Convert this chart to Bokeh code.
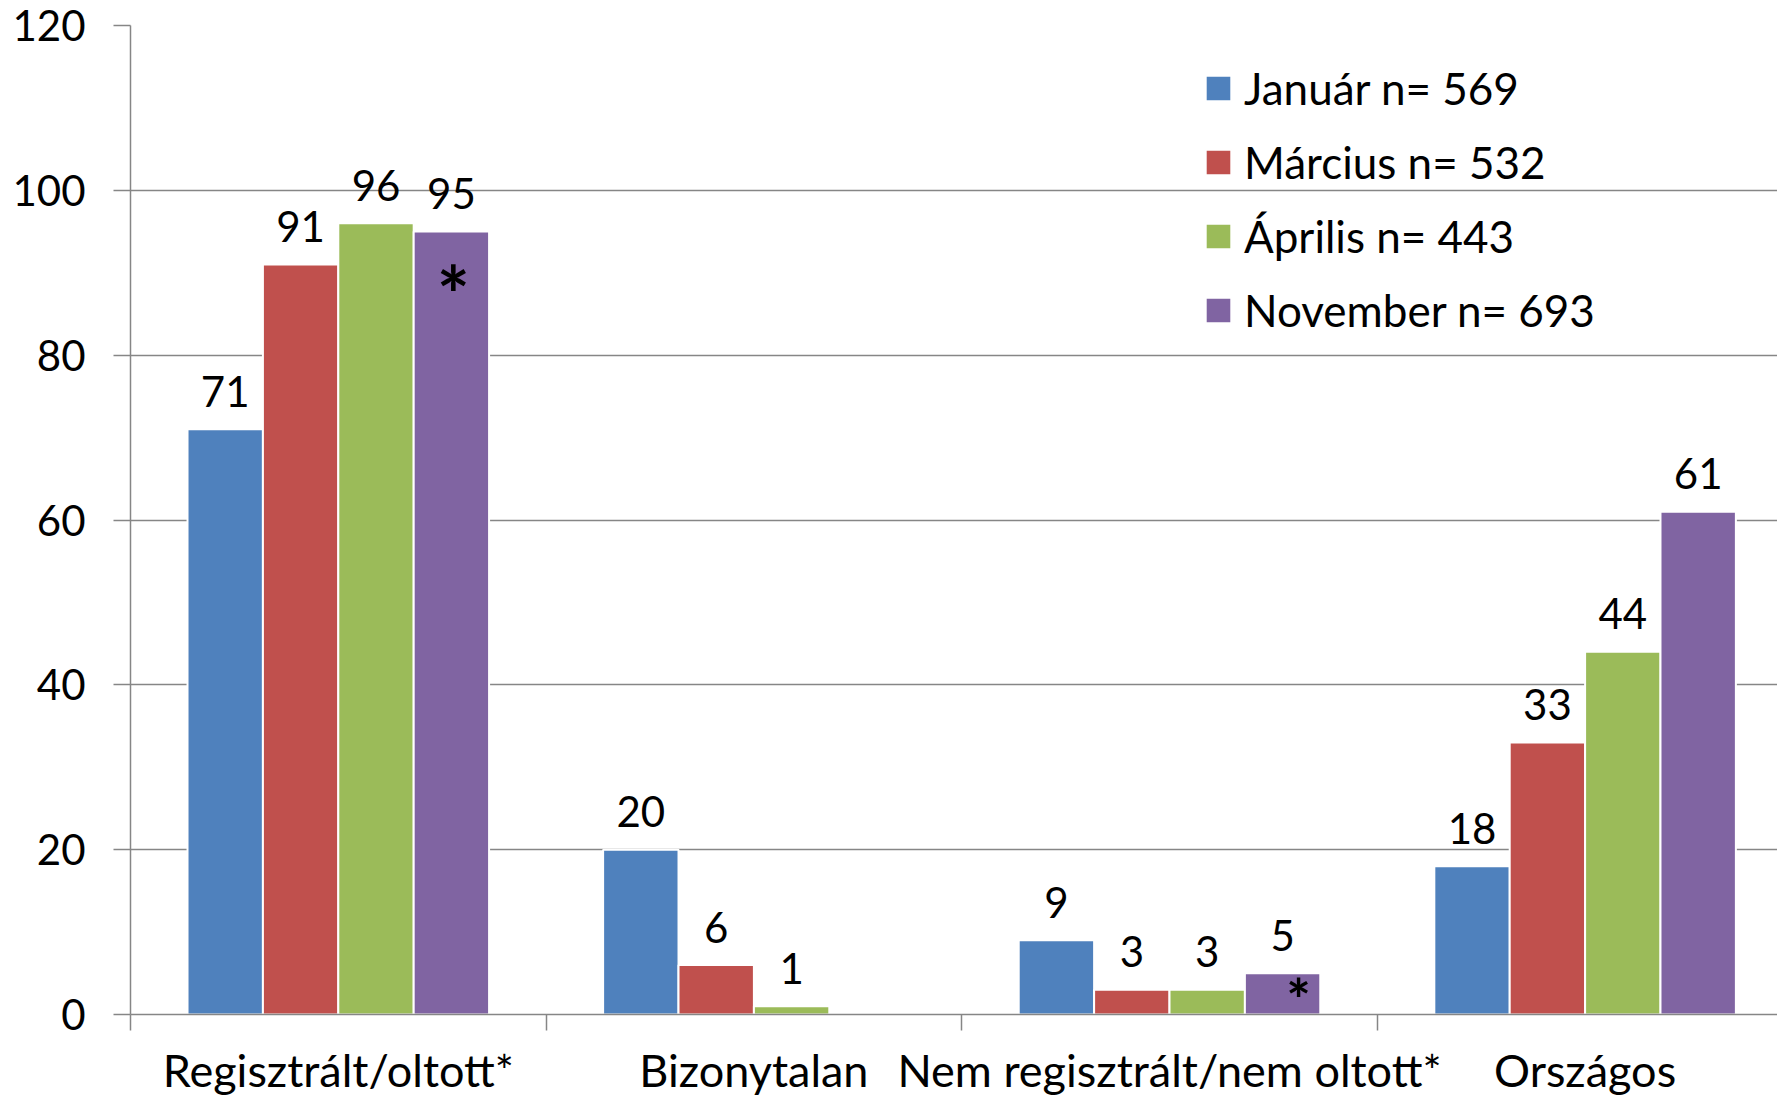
from bokeh.plotting import figure
from bokeh.models import ColumnDataSource, FixedTicker, Legend, LegendItem, Range1d
from bokeh.core.properties import value
from bokeh.embed import file_html
from bokeh.resources import INLINE

categories = ["Regisztrált/oltott*", "Bizonytalan", "Nem regisztrált/nem oltott*", "Országos"]
series_names = ["Január n= 569", "Március n= 532", "Április n= 443", "November n= 693"]
januar = [71, 20, 9, 18]
marcius = [91, 6, 3, 33]
aprilis = [96, 1, 3, 44]
november = [95, None, 5, 61]
november_marks = ["*", "", "*", ""]
y_ticks = [0, 20, 40, 60, 80, 100, 120]

colors = ["#4F81BD", "#C0504D", "#9BBB59", "#8064A2"]
FONT = "Lato"
GRID = "#868686"

W, H = 1777, 1099
CAT_PX = 415.6
LEFT, TOP, BOTTOM = 130, 25, 85
FRAME_W = W - LEFT
bw = 0.1814

p = figure(width=W, height=H, output_backend="svg", toolbar_location=None,
           x_range=Range1d(0, FRAME_W / CAT_PX), y_range=Range1d(0, 120),
           min_border_left=LEFT, min_border_right=0, min_border_top=TOP, min_border_bottom=BOTTOM)
p.outline_line_color = None
p.background_fill_color = "white"
p.border_fill_color = "white"

series = [januar, marcius, aprilis, november]
renderers = []
for j, vals in enumerate(series):
    xs = [i + 0.5 + (j - 1.5) * bw for i in range(len(categories))]
    tops = [float("nan") if v is None else v for v in vals]
    src = ColumnDataSource(dict(x=xs, top=tops))
    r = p.vbar(x="x", top="top", width=bw, bottom=0, source=src,
               fill_color=colors[j], line_color="white", line_width=2)
    renderers.append(r)
    lx = [x for x, v in zip(xs, vals) if v is not None]
    ly = [v for v in vals if v is not None]
    lt = [str(v) for v in vals if v is not None]
    p.text(x=lx, y=ly, text=lt, text_align="center", text_baseline="alphabetic",
           y_offset=-38, text_font=value(FONT), text_font_size="42px", text_color="black")

# asterisks on November bars
nov_x = [i + 0.5 + 1.5 * bw for i in range(len(categories))]
marked = [i for i, m in enumerate(november_marks) if m]
big, small = marked[0], marked[1]
p.text(x=[nov_x[big]], y=[november[big]], text=[november_marks[big]], text_align="center",
       text_baseline="alphabetic", x_offset=2, y_offset=62, text_font=value(FONT),
       text_font_size="78px", text_font_style="bold", text_color="black")
p.text(x=[nov_x[small]], y=[november[small]], text=[november_marks[small]], text_align="center",
       text_baseline="alphabetic", x_offset=16, y_offset=25, text_font=value(FONT),
       text_font_size="58px", text_font_style="bold", text_color="black")

# axes
xt = FixedTicker(ticks=[i + 0.5 for i in range(len(categories))],
                 minor_ticks=list(range(len(categories) + 1)))
p.xaxis.ticker = xt
p.xaxis.major_label_overrides = {i + 0.5: c for i, c in enumerate(categories)}
p.xaxis.major_tick_out = 0
p.xaxis.major_tick_in = 0
p.xaxis.minor_tick_out = 16
p.xaxis.minor_tick_in = 0
p.xaxis.minor_tick_line_color = GRID
p.xaxis.minor_tick_line_width = 1.5
p.xaxis.axis_line_color = GRID
p.xaxis.axis_line_width = 1.5
p.xaxis.major_label_standoff = 12
p.xaxis.major_label_text_font = FONT
p.xaxis.major_label_text_font_size = "45px"
p.xaxis.major_label_text_color = "black"

p.yaxis.ticker = FixedTicker(ticks=y_ticks)
p.yaxis.major_tick_out = 17
p.yaxis.major_tick_in = 0
p.yaxis.minor_tick_line_color = None
p.yaxis.major_tick_line_color = GRID
p.yaxis.major_tick_line_width = 1.5
p.yaxis.axis_line_color = GRID
p.yaxis.axis_line_width = 1.5
p.yaxis.major_label_standoff = 28
p.yaxis.major_label_text_font = FONT
p.yaxis.major_label_text_font_size = "42px"
p.yaxis.major_label_text_color = "black"

p.xgrid.visible = False
p.ygrid.ticker = FixedTicker(ticks=y_ticks)
p.ygrid.grid_line_color = GRID
p.ygrid.grid_line_width = 1.5

legend = Legend(items=[LegendItem(label=n, renderers=[r]) for n, r in zip(series_names, renderers)],
                location=(1072, 678), orientation="vertical",
                glyph_width=32, glyph_height=32, label_standoff=10, spacing=22,
                padding=0, margin=0, border_line_color=None, background_fill_alpha=0,
                label_text_font=FONT, label_text_font_size="44px", label_text_color="black")
p.add_layout(legend)

open("out.html", "w").write(file_html(p, INLINE))
